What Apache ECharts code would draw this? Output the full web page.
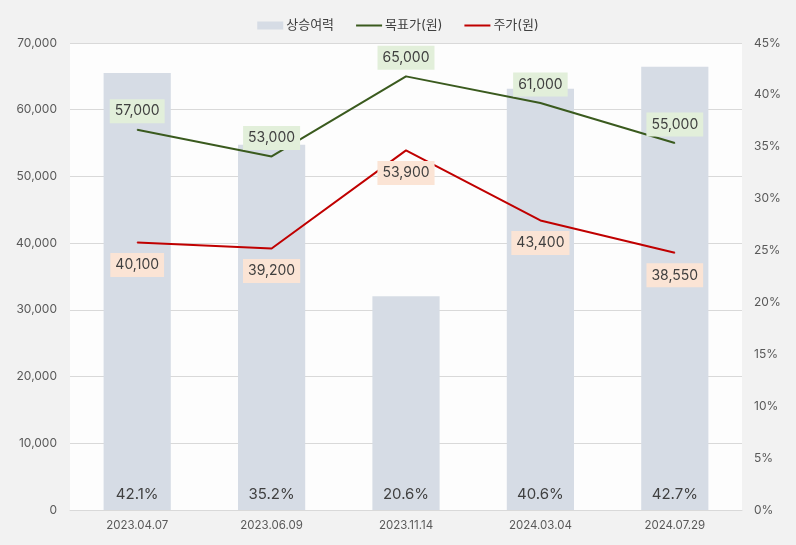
<!DOCTYPE html>
<html><head><meta charset="utf-8">
<script src="https://cdn.jsdelivr.net/npm/echarts@6/dist/echarts.min.js"></script>
<style>html,body{margin:0;padding:0;background:#f2f2f2}#c{width:796px;height:545px}</style>
</head><body><div id="c"></div>
<script>
const categories = ['2023.04.07','2023.06.09','2023.11.14','2024.03.04','2024.07.29'];
const upside = [42.1, 35.2, 20.6, 40.6, 42.7];
const targetPrice = [57000, 53000, 65000, 61000, 55000];
const stockPrice = [40100, 39200, 53900, 43400, 38550];
const seriesNames = ['상승여력', '목표가(원)', '주가(원)'];

const FONT = "Inter, 'Noto Sans CJK KR', sans-serif";
const chart = echarts.init(document.getElementById('c'));
const fmt = v => v.toLocaleString('en-US');
chart.setOption({
  backgroundColor: '#f2f2f2',
  textStyle: {fontFamily: FONT},
  legend: {
    top: 14, left: 'center', itemGap: 22, itemWidth: 26, itemHeight: 8,
    textStyle: {color: '#404040', fontSize: 13, fontFamily: FONT, padding: [0, 0, 0, -2]},
    data: [
      {name: seriesNames[0], icon: 'rect'},
      {name: seriesNames[1], icon: 'path://M0,0 L26,0 L26,2 L0,2 Z', itemStyle:{color:'#3a5a1e'}},
      {name: seriesNames[2], icon: 'path://M0,0 L26,0 L26,2 L0,2 Z', itemStyle:{color:'#c00000'}}
    ]
  },
  grid: {left: 70, right: 54, top: 43, bottom: 35, show: true, backgroundColor: '#fdfdfd', borderWidth: 0},
  xAxis: {
    type: 'category', data: categories,
    axisLine: {lineStyle: {color: '#d9d9d9'}},
    axisTick: {show: false},
    axisLabel: {color: '#595959', fontSize: 11.5, margin: 10, fontFamily: FONT}
  },
  yAxis: [
    {type: 'value', min: 0, max: 70000, interval: 10000,
     axisLabel: {color: '#595959', fontSize: 12, margin: 13, formatter: v => fmt(v), fontFamily: FONT},
     splitLine: {lineStyle: {color: '#d9d9d9'}}, axisLine: {show: false}, axisTick: {show: false}},
    {type: 'value', min: 0, max: 45, interval: 5,
     axisLabel: {color: '#595959', fontSize: 12, margin: 12, formatter: '{value}%', fontFamily: FONT},
     splitLine: {show: false}, axisLine: {show: false}, axisTick: {show: false}}
  ],
  series: [
    {name: seriesNames[0], type: 'bar', yAxisIndex: 1, data: upside, barWidth: '50%',
     itemStyle: {color: '#d6dce5'},
     label: {show: true, position: 'insideBottom', distance: 8, color: '#404040', fontSize: 15,
       formatter: p => p.value.toFixed(1) + '%', fontFamily: FONT},
     z: 1},
    {name: seriesNames[1], type: 'line', data: targetPrice, symbol: 'circle', symbolSize: 1, showSymbol: true,
     lineStyle: {color: '#3a5a1e', width: 2}, itemStyle: {color: '#3a5a1e'},
     label: {show: true, position: 'top', distance: 6, color: '#404040', fontSize: 14,
       backgroundColor: '#e2efda', padding: [5, 5, 5, 5], formatter: p => fmt(p.value), fontFamily: FONT},
     z: 3},
    {name: seriesNames[2], type: 'line', data: stockPrice, symbol: 'circle', symbolSize: 1, showSymbol: true,
     lineStyle: {color: '#c00000', width: 2}, itemStyle: {color: '#c00000'},
     label: {show: true, position: 'bottom', distance: 10, color: '#404040', fontSize: 14,
       backgroundColor: '#fbe4d5', padding: [5, 5, 5, 5], formatter: p => fmt(p.value), fontFamily: FONT},
     z: 3}
  ]
});
</script></body></html>
